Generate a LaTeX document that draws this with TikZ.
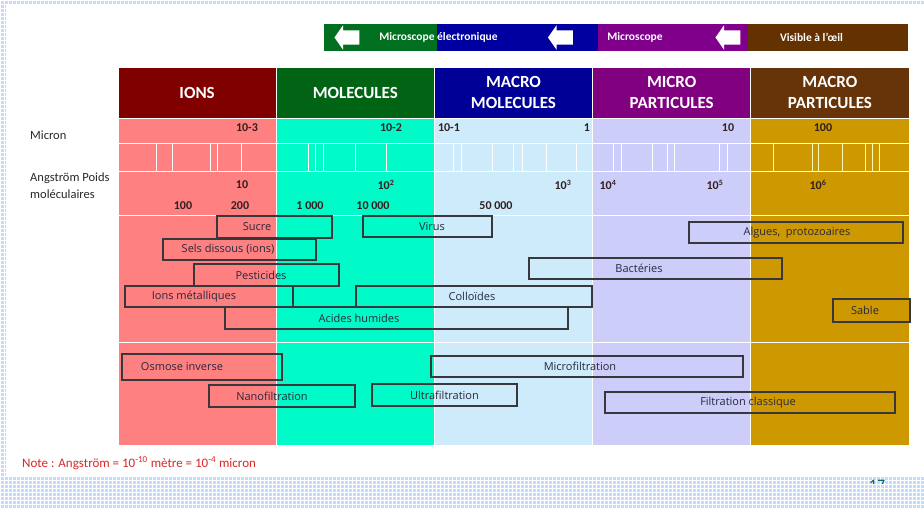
\documentclass[tikz,border=0pt]{standalone}
\usepackage{fontspec}
\setmainfont{Carlito}
\newfontfamily\boxfont{Open Sans}
\usetikzlibrary{shapes.arrows}

\definecolor{gridblue}{RGB}{196,220,248}
\definecolor{mgreen}{RGB}{0,112,32}
\definecolor{mblue}{RGB}{0,0,160}
\definecolor{mpurple}{RGB}{128,0,140}
\definecolor{mbrown}{RGB}{100,50,0}
\definecolor{hdred}{RGB}{128,0,0}
\definecolor{hdgreen}{RGB}{0,100,20}
\definecolor{hdblue}{RGB}{0,0,150}
\definecolor{hdpurple}{RGB}{128,0,128}
\definecolor{hdbrown}{RGB}{102,52,8}
\definecolor{bdred}{RGB}{255,128,128}
\definecolor{bdaqua}{RGB}{0,250,200}
\definecolor{bdblue}{RGB}{205,235,250}
\definecolor{bdlav}{RGB}{205,205,250}
\definecolor{bdgold}{RGB}{205,152,0}
\definecolor{scaletxt}{RGB}{50,32,32}
\definecolor{sidetxt}{RGB}{40,40,40}
\definecolor{rnggray}{RGB}{55,55,60}
\definecolor{rngtxt}{RGB}{40,40,60}
\definecolor{notered}{RGB}{215,40,40}
\definecolor{pagenum}{RGB}{0,95,115}

\begin{document}
\begin{tikzpicture}[x=1pt,y=-1pt,font=\fontsize{12.5}{15}\selectfont,
    hdr/.style={fill=#1,draw=white,line width=0.8pt,text=white,font=\bfseries\fontsize{17}{21}\selectfont,align=center,minimum width=158.2pt,minimum height=51pt,inner sep=0pt},
    colbody/.style={fill=#1,draw=white,line width=0.8pt,minimum width=158.2pt,minimum height=327pt,inner sep=0pt},
    topbar/.style={fill=#1,minimum height=27pt,inner sep=0pt},
    toptxt/.style={text=white,font=\bfseries\fontsize{11.5}{14}\selectfont,inner sep=0pt},
    warrow/.style={single arrow,fill=white,inner xsep=0pt,inner ysep=7pt,minimum height=25pt,single arrow head extend=5pt,single arrow tip angle=110,shape border rotate=180},
    scl/.style={text=scaletxt,font=\bfseries\fontsize{12}{14}\selectfont,inner sep=0pt},
    side/.style={text=sidetxt,anchor=west,inner sep=0pt},
    rng/.style={draw=rnggray,line width=1.1pt,inner sep=0pt},
    every label/.style={text=rngtxt,font=\boxfont\fontsize{11}{13}\selectfont,inner sep=0pt}]
  \useasboundingbox (0,0) rectangle (924,508);
  % slide background
  \fill[gridblue] (0,0) rectangle (924,508);
  \draw[white,line width=0.8pt,xstep=4pt,ystep=4pt] (0,508) grid (924,0);
  \fill[white] (6,4) rectangle (924,476);
  \begin{scope}
    \clip (860,470) rectangle (900,483);
    \node[text=pagenum,font=\fontsize{16}{18}\selectfont,inner sep=0pt] (pg) at (877,485) {17};
  \end{scope}

  % microscopes
  \node[topbar=mgreen,minimum width=113pt] (tgreen) at (380.5,37.5) {};
  \node[topbar=mblue,minimum width=161pt] (tblue) at (517.5,37.5) {};
  \node[topbar=mpurple,minimum width=150pt] (tpurple) at (673,37.5) {};
  \node[topbar=mbrown,minimum width=160pt] (tbrown) at (828,37.5) {};
  \node[warrow] (arr1) at (349.5,37.5) {};
  \node[warrow] (arr2) at (563,37.5) {};
  \node[warrow] (arr3) at (730.5,37.5) {};
  \node[toptxt] (melec) at (438.5,37.5) {Microscope électronique};
  \node[toptxt] (mopt) at (635,37.5) {Microscope};
  \node[toptxt] (mvis) at (811.5,37.5) {Visible à l'œil};

  % columns
  \node[hdr=hdred] (ions) at (197.1,92.5) {IONS};
  \node[hdr=hdgreen] (mol) at (355.3,92.5) {MOLECULES};
  \node[hdr=hdblue] (mmol) at (513.5,92.5) {MACRO\\MOLECULES};
  \node[hdr=hdpurple] (mipart) at (671.7,92.5) {MICRO\\PARTICULES};
  \node[hdr=hdbrown] (mapart) at (829.9,92.5) {MACRO\\PARTICULES};
  \node[colbody=bdred] (ionsb) at (197.1,281.5) {};
  \node[colbody=bdaqua] (molb) at (355.3,281.5) {};
  \node[colbody=bdblue] (mmolb) at (513.5,281.5) {};
  \node[colbody=bdlav] (mipartb) at (671.7,281.5) {};
  \node[colbody=bdgold] (mapartb) at (829.9,281.5) {};

  % scale rows
  \draw[white,line width=1pt] (118,144) -- (909,144) (118,172) -- (909,172)
    (118,215) -- (909,215) (118,342) -- (909,342);
  \foreach \t in {156,172,210,217,241,308,315,323,355,386,453,461,492,513,522,546,576,613,621,652,667,674,719,727}
    \draw[white,line width=0.9pt] (\t,144) -- (\t,172);
  \foreach \t in {773,812,818,842,865,872,879}
    \draw[yellow!30,line width=0.9pt] (\t,144) -- (\t,172);

  \node[side] (micron) at (30,135) {Micron};
  \node[side] (angs) at (30,178) {Angström Poids};
  \node[side] (poids) at (30,194) {moléculaires};

  \node[scl] (u3) at (247,128) {10-3};
  \node[scl] (u2) at (391,128) {10-2};
  \node[scl] (u1) at (449,128) {10-1};
  \node[scl] (u0) at (587,128) {1};
  \node[scl] (u10) at (728,128) {10};
  \node[scl] (u100) at (823,128) {100};

  \node[scl] (a1) at (242,185) {10};
  \node[scl] (a2) at (386,185) {10\textsuperscript{2}};
  \node[scl] (a3) at (563,185) {10\textsuperscript{3}};
  \node[scl] (a4) at (608,185) {10\textsuperscript{4}};
  \node[scl] (a5) at (715,185) {10\textsuperscript{5}};
  \node[scl] (a6) at (818,185) {10\textsuperscript{6}};

  \node[scl] (p100) at (183,206) {100};
  \node[scl] (p200) at (240,206) {200};
  \node[scl] (p1k) at (310,206) {1 000};
  \node[scl] (p10k) at (373,206) {10 000};
  \node[scl] (p50k) at (496,206) {50 000};

  % particles
  \node[rng,minimum width=115pt,minimum height=22pt,label={[xshift=-17.5pt]center:Sucre}] (sucre) at (274.5,227) {};
  \node[rng,minimum width=129pt,minimum height=21pt,label={[xshift=4.5pt]center:Virus}] (virus) at (427.5,226.5) {};
  \node[rng,minimum width=153pt,minimum height=21pt,label={[xshift=-11.5pt]center:{Sels dissous (ions)}}] (sels) at (239.5,249.5) {};
  \node[rng,minimum width=145pt,minimum height=22pt,label={[xshift=-5.5pt]center:Pesticides}] (pest) at (266.5,275) {};
  \node[rng,minimum width=168pt,minimum height=21pt,label={[xshift=-15pt]center:{Ions métalliques}}] (ionsmet) at (209,296.5) {};
  \node[rng,minimum width=236pt,minimum height=21pt,label={[xshift=-2pt]center:Colloïdes}] (coll) at (474,296.5) {};
  \node[rng,minimum width=343pt,minimum height=22pt,label={[xshift=-37.5pt]center:{Acides humides}}] (acides) at (396.5,318) {};
  \node[rng,minimum width=214pt,minimum height=21pt,label={[xshift=1pt]center:{Algues,\ \ protozoaires}}] (algues) at (796,232.5) {};
  \node[rng,minimum width=253pt,minimum height=21pt,label={[xshift=-16.5pt]center:Bactéries}] (bact) at (655.5,268.5) {};
  \node[rng,minimum width=77pt,minimum height=23pt,label={[xshift=-6.5pt]center:Sable}] (sable) at (871.5,310.5) {};

  % filtration
  \node[rng,minimum width=160pt,minimum height=26pt,label={[xshift=-20pt]center:{Osmose inverse}}] (osmose) at (202,367) {};
  \node[rng,minimum width=146pt,minimum height=22pt,label={[xshift=-10pt]center:Nanofiltration}] (nano) at (282,396) {};
  \node[rng,minimum width=145pt,minimum height=22pt,label={center:Ultrafiltration}] (ultra) at (444.5,395) {};
  \node[rng,minimum width=312pt,minimum height=21pt,label={[xshift=-7pt]center:Microfiltration}] (microf) at (587,366.5) {};
  \node[rng,minimum width=290pt,minimum height=21pt,label={[xshift=-2pt]center:{Filtration classique}}] (filtcl) at (750,402.5) {};

  \node[anchor=west,inner sep=0pt,text=notered,font=\fontsize{13}{15}\selectfont] (note) at (22,463) {Note : Angström = 10\textsuperscript{-10} mètre = 10\textsuperscript{-4} micron};
\end{tikzpicture}
\end{document}
